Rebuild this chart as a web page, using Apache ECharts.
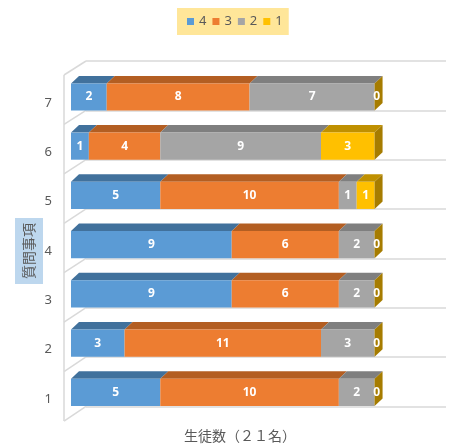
<!DOCTYPE html>
<html>
<head>
<meta charset="utf-8">
<script src="https://cdn.jsdelivr.net/npm/echarts@6/dist/echarts.min.js"></script>
<style>
  html, body { margin: 0; padding: 0; background: #fff; }
  #main { width: 452px; height: 448px; }
</style>
</head>
<body>
<div id="main"></div>
<script type="text/javascript">
    // 質問事項ごとの回答数
    var categories = ['1', '2', '3', '4', '5', '6', '7'];
    var seriesNames = ['4', '3', '2', '1'];
    var s4 = [5, 3, 9, 9, 5, 1, 2];
    var s3 = [10, 11, 6, 6, 10, 4, 8];
    var s2 = [2, 3, 2, 2, 1, 9, 7];
    var s1 = [0, 0, 0, 0, 1, 3, 0];

    var frontColors = ['#5b9bd5', '#ed7d31', '#a5a5a5', '#ffc000'];
    var topColors = ['#41719c', '#b35e22', '#7f7f7f', '#bf9000'];
    var sideColor = '#a67c00';

    var myChart = echarts.init(document.getElementById('main'));

    // 積み上げの開始・終了を計算
    var values = [s4, s3, s2, s1];
    var cum = categories.map(function () { return 0; });
    var stacked = values.map(function (arr) {
        return arr.map(function (v, i) {
            var start = cum[i];
            cum[i] += v;
            return [i, start, cum[i], v];
        });
    });

    function makeRender(idx) {
        var isLast = idx === values.length - 1;
        return function (params, api) {
            var cat = api.value(0), s = api.value(1), e = api.value(2), v = api.value(3);
            var p0 = api.coord([s, cat]);
            var p1 = api.coord([e, cat]);
            var h = api.size([0, 1])[1] * 0.55;
            var y0 = p0[1] - h / 2, y1 = p0[1] + h / 2;
            var dx = 8, dy = 7.5;
            var children = [];
            if (e > s) {
                children.push({
                    type: 'polygon',
                    shape: {points: [[p0[0], y0], [p1[0], y0], [p1[0] + dx, y0 - dy], [p0[0] + dx, y0 - dy]]},
                    style: {fill: topColors[idx]}
                });
                children.push({
                    type: 'rect',
                    shape: {x: p0[0], y: y0, width: p1[0] - p0[0], height: h},
                    style: {fill: frontColors[idx]}
                });
            }
            if (isLast) {
                children.push({
                    type: 'polygon',
                    shape: {points: [[p1[0], y0], [p1[0] + dx, y0 - dy], [p1[0] + dx, y1 - dy], [p1[0], y1]]},
                    style: {fill: sideColor}
                });
            }
            children.push({
                type: 'text',
                style: {
                    text: String(v),
                    x: (p0[0] + p1[0]) / 2 + (e > s ? 0 : 2),
                    y: p0[1],
                    align: 'center',
                    verticalAlign: 'middle',
                    fill: '#ffffff',
                    font: 'bold 12px "Noto Sans"'
                }
            });
            return {type: 'group', children: children};
        };
    }

    // 側面の壁（装飾）
    var wall = [{type: 'line', shape: {x1: 64, y1: 75, x2: 64, y2: 421}}];
    for (var k = 0; k <= 7; k++) {
        wall.push({type: 'line', shape: {x1: 64, y1: 75 + 49.43 * k, x2: 86, y2: 61 + 49.33 * k}});
    }
    wall.forEach(function (g) {
        g.style = {stroke: '#d9d9d9', lineWidth: 1.5};
        g.z = 0;
    });

    myChart.setOption({
        animation: false,
        legend: {
            data: seriesNames,
            left: 177,
            top: 8,
            padding: [7, 6, 7, 10],
            backgroundColor: '#ffe699',
            icon: 'rect',
            itemWidth: 7,
            itemHeight: 7,
            itemGap: 6,
            textStyle: {color: '#595959', fontSize: 13, fontFamily: 'Noto Sans'}
        },
        graphic: wall,
        grid: [
            // 棒グラフ本体
            {left: 71, right: 6, top: 72.3, bottom: 30.3},
            // 奥の壁
            {left: 86, right: 6, top: 61, bottom: 41.7},
            // 軸ラベル用
            {left: 64, right: 6, top: 78.3, bottom: 24.3}
        ],
        xAxis: [
            {
                gridIndex: 0, type: 'value', min: 0, max: 21,
                axisLine: {show: false}, axisTick: {show: false}, axisLabel: {show: false}, splitLine: {show: false},
                name: '生徒数（２１名）', nameLocation: 'middle', nameGap: 12,
                nameTextStyle: {color: '#595959', fontSize: 14, fontFamily: 'Noto Sans CJK JP', padding: [0, 37, 0, 0]}
            },
            {gridIndex: 1, type: 'value', show: false, min: 0, max: 21},
            {gridIndex: 2, type: 'value', show: false, min: 0, max: 21}
        ],
        yAxis: [
            {gridIndex: 0, type: 'category', data: categories, show: false},
            {
                gridIndex: 1, type: 'category', data: categories,
                axisLine: {show: false}, axisTick: {show: false}, axisLabel: {show: false},
                splitLine: {show: true, lineStyle: {color: '#d9d9d9', width: 1.5}}
            },
            {
                gridIndex: 2, type: 'category', data: categories,
                axisLine: {show: false}, axisTick: {show: false}, splitLine: {show: false},
                axisLabel: {color: '#595959', fontSize: 13, fontFamily: 'Noto Sans', margin: 12},
                name: '質問事項', nameLocation: 'middle', nameRotate: 90, nameGap: 21,
                nameMoveOverlap: false,
                nameTextStyle: {
                    color: '#595959', fontSize: 14, fontFamily: 'Noto Sans CJK JP',
                    backgroundColor: '#bdd7ee', padding: [7, 5, 7, 5]
                }
            }
        ],
        series: stacked.map(function (data, idx) {
            return {
                name: seriesNames[idx],
                type: 'custom',
                xAxisIndex: 0,
                yAxisIndex: 0,
                z: 2 + idx,
                itemStyle: {color: frontColors[idx]},
                encode: {x: [1, 2], y: 0},
                renderItem: makeRender(idx),
                data: data
            };
        })
    });
</script>
</body>
</html>
